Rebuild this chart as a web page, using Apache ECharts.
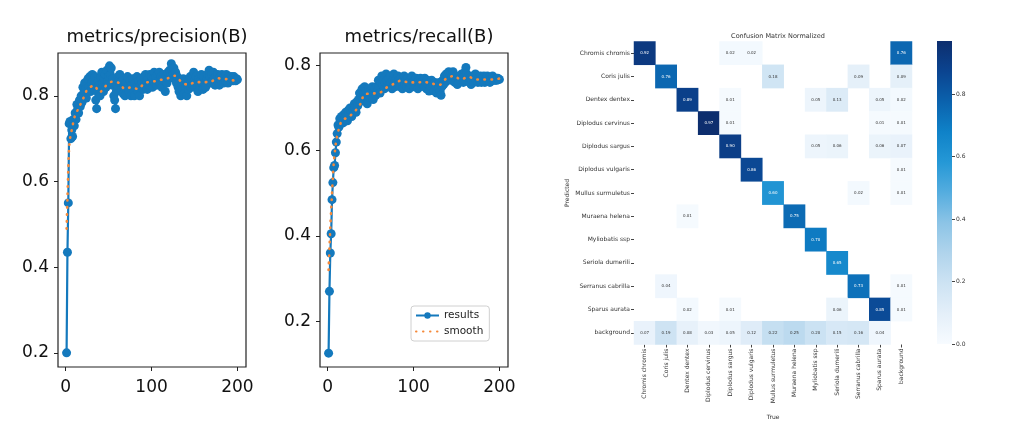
<!DOCTYPE html>
<html>
<head>
<meta charset="utf-8">
<script src="https://cdn.jsdelivr.net/npm/echarts@6/dist/echarts.min.js"></script>
<style>html,body{margin:0;padding:0;background:#fff;}#c{width:1009px;height:427px;}</style>
</head>
<body>
<div id="c"></div>
<script>
// ---------- data ----------
const precisionResults = [0.200,0.435,0.550,0.735,0.740,0.700,0.720,0.705,0.745,0.730,
0.760,0.745,0.780,0.770,0.760,0.790,0.775,0.800,0.785,0.820,
0.805,0.830,0.815,0.795,0.835,0.840,0.820,0.845,0.810,0.830,
0.850,0.835,0.815,0.845,0.790,0.770,0.810,0.835,0.825,0.800,
0.845,0.855,0.830,0.810,0.840,0.850,0.820,0.860,0.835,0.845,
0.870,0.850,0.865,0.825,0.840,0.800,0.790,0.770,0.810,0.825,
0.845,0.835,0.850,0.830,0.815,0.835,0.805,0.820,0.800,0.830,
0.815,0.845,0.825,0.810,0.835,0.800,0.825,0.840,0.815,0.800,
0.830,0.820,0.845,0.810,0.835,0.800,0.825,0.840,0.830,0.815,
0.845,0.825,0.850,0.835,0.815,0.840,0.825,0.850,0.830,0.845,
0.820,0.840,0.855,0.830,0.845,0.825,0.850,0.835,0.855,0.830,
0.845,0.820,0.840,0.850,0.835,0.810,0.845,0.830,0.855,0.840,
0.860,0.845,0.875,0.860,0.850,0.865,0.840,0.855,0.830,0.845,
0.820,0.810,0.835,0.800,0.825,0.815,0.840,0.805,0.830,0.820,
0.800,0.825,0.815,0.835,0.845,0.820,0.840,0.825,0.855,0.835,
0.820,0.845,0.830,0.810,0.840,0.825,0.835,0.850,0.830,0.815,
0.845,0.830,0.820,0.840,0.850,0.835,0.860,0.845,0.830,0.850,
0.835,0.855,0.840,0.825,0.845,0.835,0.850,0.840,0.825,0.845,
0.835,0.850,0.840,0.830,0.845,0.835,0.850,0.840,0.830,0.845,
0.840,0.835,0.845,0.840,0.835,0.845,0.840,0.835,0.840,0.838];

const precisionSmoothEpochs = [1,2,3,4,5,6,8,10.5,15,20,25,33,39.5,46,54,62,69,76,84,92,101,110,119,127,135,142,152,160,169,177,187,196,200];
const precisionSmoothValues = [0.49,0.56,0.63,0.68,0.70,0.71,0.73,0.752,0.771,0.792,0.814,0.824,0.808,0.822,0.833,0.830,0.816,0.820,0.816,0.830,0.833,0.837,0.841,0.847,0.832,0.826,0.832,0.832,0.833,0.841,0.839,0.836,0.836];

const recallResults = [0.125,0.270,0.360,0.405,0.485,0.525,0.560,0.565,0.595,0.620,
0.640,0.660,0.655,0.675,0.665,0.680,0.670,0.665,0.685,0.675,
0.690,0.680,0.670,0.695,0.685,0.700,0.690,0.680,0.700,0.695,
0.710,0.700,0.690,0.715,0.705,0.720,0.735,0.715,0.730,0.745,
0.720,0.735,0.750,0.725,0.740,0.710,0.730,0.745,0.725,0.740,
0.735,0.750,0.720,0.740,0.745,0.730,0.750,0.740,0.765,0.750,
0.735,0.760,0.775,0.755,0.765,0.745,0.760,0.780,0.765,0.750,
0.770,0.755,0.775,0.760,0.745,0.765,0.780,0.760,0.750,0.770,
0.755,0.775,0.765,0.750,0.770,0.760,0.745,0.765,0.775,0.755,
0.765,0.750,0.770,0.760,0.745,0.765,0.755,0.775,0.760,0.750,
0.765,0.755,0.770,0.760,0.745,0.765,0.750,0.770,0.760,0.755,
0.765,0.750,0.770,0.760,0.745,0.765,0.755,0.740,0.760,0.750,
0.765,0.745,0.755,0.740,0.760,0.750,0.735,0.755,0.745,0.760,
0.740,0.730,0.750,0.765,0.755,0.775,0.760,0.780,0.765,0.775,
0.785,0.770,0.780,0.765,0.775,0.785,0.770,0.760,0.775,0.765,
0.755,0.770,0.760,0.775,0.765,0.780,0.770,0.760,0.775,0.785,
0.795,0.780,0.770,0.775,0.760,0.770,0.755,0.765,0.775,0.760,
0.770,0.780,0.765,0.775,0.760,0.770,0.765,0.775,0.760,0.770,
0.765,0.775,0.760,0.770,0.765,0.775,0.765,0.770,0.760,0.770,
0.765,0.775,0.765,0.770,0.765,0.770,0.765,0.770,0.768,0.767];

const recallSmoothEpochs = [1,2,3,4,5,6,7,8,9,10,12.7,16.6,25,32,38.5,42.8,52,61,68.6,77.5,85,94.5,103,112,122,130,138,147,155,164,173,182,192,200];
const recallSmoothValues = [0.32,0.37,0.42,0.46,0.50,0.54,0.57,0.59,0.61,0.625,0.649,0.670,0.680,0.693,0.711,0.732,0.734,0.736,0.748,0.757,0.764,0.760,0.760,0.761,0.757,0.754,0.769,0.775,0.767,0.773,0.767,0.767,0.767,0.769];

const lineXTicks = [0, 100, 200];
const lineYTicks = [0.2, 0.4, 0.6, 0.8];

const cmClasses = ['Chromis chromis','Coris julis','Dentex dentex','Diplodus cervinus','Diplodus sargus','Diplodus vulgaris','Mullus surmuletus','Muraena helena','Myliobatis ssp','Seriola dumerili','Serranus cabrilla','Sparus aurata','background'];
// rows = Predicted, columns = True
const cmRowChromis   = [0.92,0,0,0,0.02,0.02,0,0,0,0,0,0,0.76];
const cmRowCoris     = [0,0.76,0,0,0,0,0.18,0,0,0,0.09,0,0.09];
const cmRowDentex    = [0,0,0.89,0,0.01,0,0,0,0.05,0.13,0,0.05,0.02];
const cmRowCervinus  = [0,0,0,0.97,0.01,0,0,0,0,0,0,0.01,0.01];
const cmRowSargus    = [0,0,0,0,0.90,0,0,0,0.05,0.06,0,0.06,0.07];
const cmRowVulgaris  = [0,0,0,0,0,0.86,0,0,0,0,0,0,0.01];
const cmRowMullus    = [0,0,0,0,0,0,0.60,0,0,0,0.02,0,0.01];
const cmRowMuraena   = [0,0,0.01,0,0,0,0,0.75,0,0,0,0,0];
const cmRowMyliobatis= [0,0,0,0,0,0,0,0,0.70,0,0,0,0];
const cmRowSeriola   = [0,0,0,0,0,0,0,0,0,0.65,0,0,0];
const cmRowSerranus  = [0,0.04,0,0,0,0,0,0,0,0,0.73,0,0.01];
const cmRowSparus    = [0,0,0.02,0,0.01,0,0,0,0,0.06,0,0.85,0.01];
const cmRowBackground= [0.07,0.19,0.08,0.03,0.05,0.12,0.22,0.25,0.20,0.15,0.16,0.04,0];
const colorbarTicks = [0, 0.2, 0.4, 0.6, 0.8];
const cmMax = 0.97;

// ---------- build ----------
const cmRows = [cmRowChromis,cmRowCoris,cmRowDentex,cmRowCervinus,cmRowSargus,cmRowVulgaris,cmRowMullus,cmRowMuraena,cmRowMyliobatis,cmRowSeriola,cmRowSerranus,cmRowSparus,cmRowBackground];
const blues = ['#f7fbff','#e4eff9','#cde3f3','#b0d4ec','#8cc4e6','#55addf','#2598d6','#0f82c8','#0b62ad','#0b4490','#0d2e6e'];

const heatData = [];
cmRows.forEach((row, r) => row.forEach((v, c) => {
  if (v > 0) heatData.push({ value: [c, r, v], label: { color: v > 0.5 ? '#ffffff' : '#333333' } });
}));

const pairs = (xs, ys) => ys.map((y, i) => [xs[i], y]);
const epochPairs = (ys) => ys.map((y, i) => [i + 1, y]);

const FONT = 'DejaVu Sans';
const BLUE = '#1479bd';
const ORANGE = '#f5893a';

function lineX(gi) {
  return {
    type: 'value', gridIndex: gi, min: -9, max: 210,
    axisLine: { show: false, onZero: false }, splitLine: { show: false },
    axisTick: { show: true, length: 4, lineStyle: { color: '#222' }, customValues: lineXTicks },
    axisLabel: { fontSize: 17, fontFamily: FONT, color: '#111', margin: 12, customValues: lineXTicks }
  };
}
function lineY(gi, mn, mx) {
  return {
    type: 'value', gridIndex: gi, min: mn, max: mx,
    axisLine: { show: false, onZero: false }, splitLine: { show: false },
    axisTick: { show: true, length: 4, lineStyle: { color: '#222' }, customValues: lineYTicks },
    axisLabel: { fontSize: 17, fontFamily: FONT, color: '#111', margin: 9, customValues: lineYTicks, formatter: v => v.toFixed(1) }
  };
}
function resultsSeries(gi, data) {
  return {
    name: 'results', type: 'line', xAxisIndex: gi, yAxisIndex: gi, data: data,
    symbol: 'circle', symbolSize: 9, showSymbol: true,
    lineStyle: { color: BLUE, width: 2.2 }, itemStyle: { color: BLUE },
    z: 2, silent: true
  };
}
function smoothSeries(gi, data) {
  return {
    name: 'smooth', type: 'line', xAxisIndex: gi, yAxisIndex: gi, data: data,
    symbol: 'none', smooth: 0.3,
    lineStyle: { color: ORANGE, width: 2.6, type: [0.5, 6.5], cap: 'round' },
    itemStyle: { color: ORANGE },
    z: 3, silent: true
  };
}

const option = {
  animation: false,
  backgroundColor: '#ffffff',
  title: [
    { text: 'metrics/precision(B)', left: 152, top: 23, textAlign: 'center', textStyle: { fontSize: 18, fontWeight: 'normal', fontFamily: FONT, color: '#111' } },
    { text: 'metrics/recall(B)', left: 414, top: 23, textAlign: 'center', textStyle: { fontSize: 18, fontWeight: 'normal', fontFamily: FONT, color: '#111' } },
    { text: 'Confusion Matrix Normalized', left: 773, top: 28, textAlign: 'center', textStyle: { fontSize: 6.5, fontWeight: 'normal', fontFamily: FONT, color: '#333' } }
  ],
  legend: {
    data: [{ name: 'results' }, { name: 'smooth', itemStyle: { opacity: 0 } }],
    orient: 'vertical', left: 411, top: 306,
    itemWidth: 23, itemHeight: 8, itemGap: 5, padding: [4, 6, 4, 4],
    backgroundColor: '#fff', borderColor: '#d0d0d0', borderWidth: 1, borderRadius: 3,
    textStyle: { fontSize: 10.5, fontFamily: FONT, color: '#222' },
    selectedMode: false
  },
  grid: [
    { left: 58, top: 53, width: 188, height: 314, show: true, borderColor: '#222', borderWidth: 1.2, backgroundColor: 'transparent' },
    { left: 320, top: 53, width: 188, height: 314, show: true, borderColor: '#222', borderWidth: 1.2, backgroundColor: 'transparent' },
    { left: 634, top: 41.5, width: 278, height: 303 },
    { left: 937, top: 41, width: 15, height: 303 }
  ],
  xAxis: [
    lineX(0), lineX(1),
    { type: 'category', gridIndex: 2, data: cmClasses, position: 'bottom',
      axisLine: { show: false }, splitLine: { show: false }, splitArea: { show: false },
      axisTick: { show: true, length: 3, alignWithLabel: true, lineStyle: { color: '#444' } },
      axisLabel: { rotate: 90, fontSize: 6, fontFamily: FONT, color: '#333', margin: 4, interval: 0 },
      name: 'True', nameLocation: 'middle', nameGap: 70, nameTextStyle: { fontSize: 6, fontFamily: FONT, color: '#333' } },
    { type: 'category', gridIndex: 3, data: ['cb'], show: false }
  ],
  yAxis: [
    lineY(0, 0.167, 0.9), lineY(1, 0.0925, 0.829),
    { type: 'category', gridIndex: 2, data: cmClasses, inverse: true,
      axisLine: { show: false }, splitLine: { show: false }, splitArea: { show: false },
      axisTick: { show: true, length: 3, alignWithLabel: true, lineStyle: { color: '#444' } },
      axisLabel: { fontSize: 6, fontFamily: FONT, color: '#333', margin: 4, interval: 0 },
      name: 'Predicted', nameLocation: 'middle', nameGap: 64, nameRotate: 90, nameTextStyle: { fontSize: 6, fontFamily: FONT, color: '#333' } },
    { type: 'value', gridIndex: 3, min: 0, max: cmMax, position: 'right',
      axisLine: { show: false }, splitLine: { show: false },
      axisTick: { show: true, length: 3, lineStyle: { color: '#444' }, customValues: colorbarTicks },
      axisLabel: { fontSize: 6, fontFamily: FONT, color: '#333', margin: 4, customValues: colorbarTicks, formatter: v => v.toFixed(1) } }
  ],
  visualMap: {
    show: false, type: 'continuous', min: 0, max: cmMax, seriesIndex: 4, dimension: 2,
    inRange: { color: blues }
  },
  series: [
    resultsSeries(0, epochPairs(precisionResults)),
    smoothSeries(0, pairs(precisionSmoothEpochs, precisionSmoothValues)),
    resultsSeries(1, epochPairs(recallResults)),
    smoothSeries(1, pairs(recallSmoothEpochs, recallSmoothValues)),
    { type: 'heatmap', xAxisIndex: 2, yAxisIndex: 2, data: heatData,
      label: { show: true, fontSize: 4, fontFamily: FONT, formatter: p => p.value[2].toFixed(2) },
      emphasis: { disabled: true }, silent: true },
    { type: 'bar', xAxisIndex: 3, yAxisIndex: 3, data: [cmMax], barWidth: '100%', silent: true,
      itemStyle: { color: new echarts.graphic.LinearGradient(0, 1, 0, 0, blues.map((c, i) => ({ offset: i / (blues.length - 1), color: c }))) } }
  ]
};

const chart = echarts.init(document.getElementById('c'), null, { renderer: 'canvas' });
chart.setOption(option);
</script>
</body>
</html>
